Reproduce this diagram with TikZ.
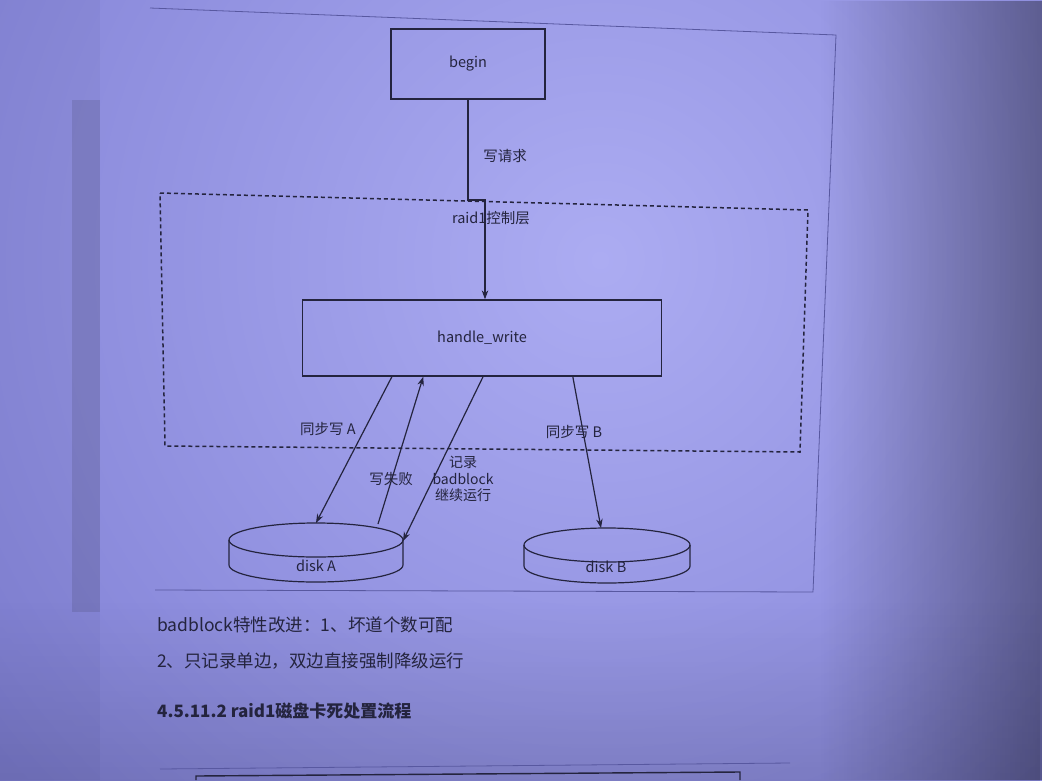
\documentclass[tikz,border=0pt]{standalone}
\usepackage{fontspec}
\setmainfont{Noto Sans CJK SC}
\usetikzlibrary{arrows.meta,calc,fadings}
\definecolor{ink}{RGB}{36,36,62}
\definecolor{paperlight}{RGB}{172,172,242}
\definecolor{paperdark}{RGB}{110,110,200}
\definecolor{framecol}{RGB}{88,88,160}
\begin{document}
\begin{tikzpicture}[x=1pt,y=-1pt,
  box/.style={draw=ink, line width=1.3pt, minimum width=#1, inner sep=0pt,
    font=\fontsize{14.5}{17}\selectfont, text=ink},
  lbl/.style={font=\fontsize{14.5}{17}\selectfont, text=ink, inner sep=0pt},
  para/.style={font=\fontsize{17.5}{20}\selectfont, text=ink, anchor=west, inner sep=0pt},
  link/.style={draw=ink, line width=1.2pt, -{Stealth[length=9pt,width=6.5pt]}},
  disk/.style={draw=ink, line width=1.2pt}]

% screen background
\useasboundingbox (0,0) rectangle (1042,780);
\begin{scope}
  \clip (0,0) rectangle (1042,780);
  \fill[paperdark] (0,0) rectangle (1042,780);
  \shade[inner color=paperlight, outer color=paperdark] (600,260) circle (1100);
  \fill[black, opacity=0.03] (0,0) rectangle (100,780);
  \fill[black, opacity=0.10] (72,100) rectangle (100,612);
  \fill[black, opacity=0.35, path fading=west] (820,0) rectangle (1043,780);
  \fill[black, opacity=0.12, path fading=north] (0,600) rectangle (1042,781);
\end{scope}

% frame around the figure
\draw[framecol, line width=0.8pt] (150,8) -- (836,35) -- (813,592) -- (155,590);
\draw[framecol, line width=0.8pt] (160,769) -- (790,763);
\draw[ink, line width=1.4pt] (196,780) -- (196,776) -- (740,772) -- (740,780);

% dashed raid1 control layer
\coordinate (d1) at (160,193);
\coordinate (d2) at (808,210);
\coordinate (d3) at (800,452);
\coordinate (d4) at (165,446);
\draw[ink, line width=1.5pt, dash pattern=on 4pt off 3pt] (d1) -- (d2) -- (d3) -- (d4) -- cycle;

% boxes
\node[box=154pt, minimum height=70pt] (begin) at (468,64) {begin};
\node[box=359pt, minimum height=76pt] (hw) at (482,338) {handle\_write};

% disks
\coordinate (aC) at (316,540);
\draw[disk] (aC) ellipse [x radius=87, y radius=17];
\draw[disk] (229,540) -- (229,565) arc [start angle=180, end angle=0, x radius=87, y radius=17] -- (403,540);
\node[lbl] (diskA) at (316,566) {disk A};
\coordinate (aTop) at (316,523);
\coordinate (aFail) at (378,524);
\coordinate (aRight) at (403,541);

\coordinate (bC) at (607,545);
\draw[disk] (bC) ellipse [x radius=83, y radius=17];
\draw[disk] (524,545) -- (524,566) arc [start angle=180, end angle=0, x radius=83, y radius=17] -- (690,545);
\node[lbl] (diskB) at (606,567) {disk B};
\coordinate (bTop) at (601,528);

% request path
\coordinate (s1) at (468,200);
\coordinate (s2) at (485,200);
\draw[link] (begin.south) -- (s1) -- (s2) -- (s2 |- hw.north);
\node[lbl] (req) at (505,156) {写请求};
\node[lbl] (layer) at (491,218) {raid1控制层};

% write paths
\draw[link] ($(hw.south west)!0.25!(hw.south east)$) -- (aTop);
\draw[link] (aFail) -- ($(hw.south west)!0.337!(hw.south east)$);
\draw[link] ($(hw.south west)!0.503!(hw.south east)$) -- (aRight);
\draw[link] ($(hw.south west)!0.752!(hw.south east)$) -- (bTop);

\node[lbl] (wa) at (328,429) {同步写 A};
\node[lbl] (fail) at (391,479) {写失败};
\node[lbl, align=center, font=\fontsize{14}{16.5}\selectfont] (rec) at (463,479) {记录\\badblock\\继续运行};
\node[lbl] (wb) at (574,432) {同步写 B};

% text below the figure
\node[para] (p1) at (157,625) {badblock特性改进：1、坏道个数可配};
\node[para] (p2) at (157,661) {2、只记录单边，双边直接强制降级运行};
\node[para, font=\fontsize{17}{20}\selectfont\bfseries] (h1) at (157,711) {4.5.11.2 raid1磁盘卡死处置流程};
\end{tikzpicture}
\end{document}
